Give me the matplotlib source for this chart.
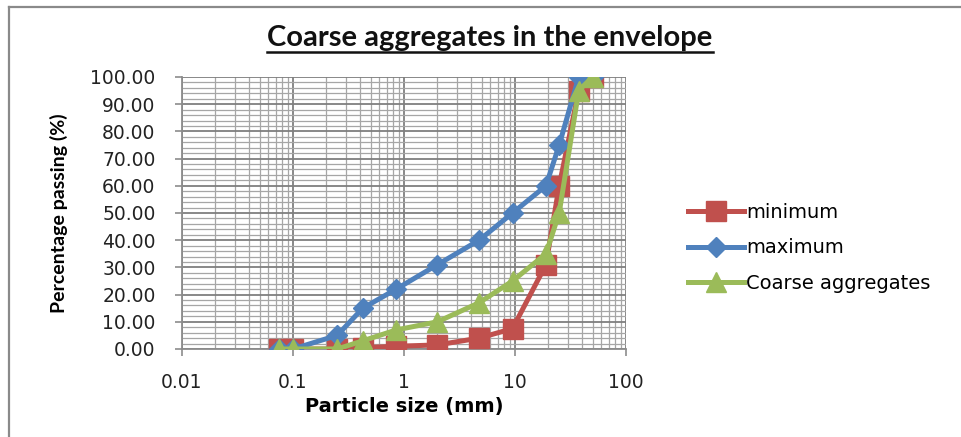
import matplotlib
matplotlib.use("Agg")
import matplotlib.pyplot as plt
from matplotlib.lines import Line2D
from matplotlib.ticker import LogLocator, MultipleLocator, FixedLocator, FixedFormatter, NullFormatter

# Sieve sizes (mm) and percentage passing for each curve
sizes = [0.075, 0.1, 0.25, 0.425, 0.85, 2.0, 4.75, 9.5, 19.0, 25.0, 37.5, 50.0]
minimum = [0, 0, 0, 0.5, 1, 1.5, 4, 7.5, 31, 60, 95, 100]
maximum = [0, 0, 5, 15, 22, 31, 40, 50, 60, 75, 100, 100]
coarse = [0, 0, 0, 3, 7, 10, 17, 25, 35, 50, 95, 100]

x_ticks = [0.01, 0.1, 1, 10, 100]
x_tick_labels = ["0.01", "0.1", "1", "10", "100"]
y_ticks = [0, 10, 20, 30, 40, 50, 60, 70, 80, 90, 100]

RED = "#C0504D"
BLUE = "#4F81BD"
GREEN = "#9BBB59"
GRID = "#8C8C8C"
NARROW = ["Lato", "DejaVu Sans"]

W, H = 962, 437
fig = plt.figure(figsize=(W / 100, H / 100), dpi=100)
fig.patch.set_facecolor("white")

# outer chart frame (top and left edges visible)
fig.add_artist(Line2D([9 / W, 1.0], [1 - 7 / H, 1 - 7 / H], color="#8A8A8A", lw=1.6))
fig.add_artist(Line2D([9 / W, 9 / W], [0, 1 - 7 / H], color="#8A8A8A", lw=1.6))

ax = fig.add_axes([182 / W, 1 - 349 / H, (626 - 182) / W, (349 - 77) / H])
ax.set_xscale("log")
ax.set_xlim(0.01, 100)
ax.set_ylim(0, 100)

ax.xaxis.set_major_locator(FixedLocator(x_ticks))
ax.xaxis.set_major_formatter(FixedFormatter(x_tick_labels))
ax.xaxis.set_minor_locator(LogLocator(base=10, subs=range(2, 10)))
ax.xaxis.set_minor_formatter(NullFormatter())
ax.yaxis.set_major_locator(FixedLocator(y_ticks))
ax.yaxis.set_major_formatter(plt.FuncFormatter(lambda v, p: f"{v:.2f}"))
ax.yaxis.set_minor_locator(MultipleLocator(2))

ax.grid(which="major", color="#7F7F7F", lw=1.3)
ax.grid(which="minor", color="#A6A6A6", lw=0.9)
ax.set_axisbelow(True)

for s in ["top", "right"]:
    ax.spines[s].set_visible(False)
for s in ["left", "bottom"]:
    ax.spines[s].set_color(GRID)
    ax.spines[s].set_linewidth(1.3)

ax.tick_params(which="major", direction="out", length=5, width=1.2, color=GRID,
               labelsize=13.5, labelcolor="#222222")
ax.tick_params(axis="y", which="major", pad=14)
ax.tick_params(axis="x", which="major", pad=12)
ax.tick_params(which="minor", length=0)

ax.plot(sizes, minimum, color=RED, lw=3.6, marker="s", ms=14, label="minimum", zorder=3)
ax.plot(sizes, maximum, color=BLUE, lw=3.6, marker="D", ms=10, label="maximum", zorder=4)
ax.plot(sizes, coarse, color=GREEN, lw=3.6, marker="^", ms=15, label="Coarse aggregates", zorder=5)

ax.set_xlabel("Particle size (mm)", fontsize=14, fontweight="bold", labelpad=4)
ax.set_ylabel("Percentage passing (%)", fontsize=14, fontweight="bold",
              family=NARROW, labelpad=16)

leg = fig.legend(loc="upper left", bbox_to_anchor=(680 / W, 1 - 195 / H), frameon=False,
                 fontsize=14, handlelength=2.9, handletextpad=0.1, labelspacing=0.85,
                 borderaxespad=0)

title = fig.text(490 / W, 1 - 46 / H, "Coarse aggregates in the envelope", ha="center",
                 va="baseline", fontsize=21, fontweight="bold",
                 family=NARROW, color="#111111")

# underline beneath the title
fig.canvas.draw()
bb = title.get_window_extent(fig.canvas.get_renderer())
uy = bb.y0 - 1
fig.add_artist(Line2D([bb.x0 / W, bb.x1 / W], [uy / H, uy / H], color="#111111", lw=1.8))

fig.savefig("out.png", dpi=100)
